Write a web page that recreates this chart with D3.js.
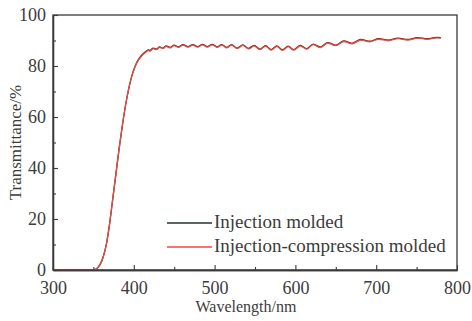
<!DOCTYPE html>
<html>
<head>
<meta charset="utf-8">
<script src="https://cdn.jsdelivr.net/npm/d3@7/dist/d3.min.js"></script>
<style>
  html, body { margin: 0; padding: 0; background: #fff; }
  .chart { width: 472px; height: 321px; }
</style>
</head>
<body>
<div class="chart"></div>
<script>
// Wavelength samples (nm)
var wavelength = [300, 330, 350, 354, 358, 362, 366, 370, 374, 378, 382, 386, 390, 394, 398,
  402, 406, 410, 414, 418, 420, 424, 428, 432, 436, 440, 445, 450, 455, 461, 467, 473, 479,
  485, 491, 497, 503, 509, 515, 521, 528, 535, 542, 549, 556, 563, 570, 577, 584, 591, 598,
  606, 614, 622, 631, 640, 650, 660, 670, 681, 692, 703, 715, 727, 739, 751, 763, 775, 780];

// Injection molded (dark line)
var injection = [0, 0, 0, 0.5, 2, 5, 10, 18, 28, 38, 48, 57, 65, 71.5, 76.6,
  80.2, 82.7, 84.3, 85.5, 86.3, 86.1, 87.0, 86.6, 87.5, 87.0, 87.9, 87.3, 88.2, 87.5, 88.4, 87.6, 88.4, 87.6,
  88.5, 87.6, 88.5, 87.5, 88.4, 87.3, 88.4, 87.0, 88.3, 86.9, 88.1, 86.6, 88.0, 86.4, 87.9, 86.3, 87.8, 86.4,
  88.1, 86.8, 88.6, 87.4, 89.2, 88.2, 89.8, 88.9, 90.4, 89.7, 90.7, 90.1, 90.9, 90.4, 91.1, 90.7, 91.2, 91.1];

// Injection-compression molded (red line)
var injectionCompression = [0, 0, 0, 0.5, 2, 5, 10, 18, 28, 38, 48, 57, 65, 71.5, 76.5,
  80, 82.5, 84, 85.2, 86.0, 85.8, 86.8, 86.4, 87.3, 86.8, 87.7, 87.1, 88.0, 87.3, 88.2, 87.4, 88.2, 87.4,
  88.3, 87.4, 88.3, 87.3, 88.2, 87.1, 88.2, 86.8, 88.1, 86.7, 87.9, 86.4, 87.8, 86.2, 87.7, 86.1, 87.6, 86.2,
  87.9, 86.6, 88.4, 87.2, 89.0, 88.0, 89.6, 88.7, 90.2, 89.5, 90.5, 89.9, 90.7, 90.2, 90.9, 90.5, 91.0, 90.9];

var seriesNames = ['Injection molded', 'Injection-compression molded'];
var seriesColors = ['#24302a', '#f2463e'];

var xTicks = [300, 400, 500, 600, 700, 800];
var xMinorTicks = [350, 450, 550, 650, 750];
var yTicks = [0, 20, 40, 60, 80, 100];
var yMinorTicks = [10, 30, 50, 70, 90];

// Plot frame inside the 472x321 page
var margin = { top: 15, right: 15, bottom: 51, left: 53 };
var chartWidth = 472;
var chartHeight = 321;
var axesColor = '#3a3a3a';
var textColor = '#3c3c3c';
var font = '"Liberation Serif", "Times New Roman", serif';

var svg = d3.select('.chart').append('svg')
  .attr('width', chartWidth)
  .attr('height', chartHeight)
  .style('display', 'block');

var xScale = d3.scaleLinear()
  .domain([300, 800])
  .range([margin.left, chartWidth - margin.right]);

var yScale = d3.scaleLinear()
  .domain([0, 100])
  .range([chartHeight - margin.bottom, margin.top]);

// Frame on top and right (no ticks there)
svg.append('rect')
  .attr('x', xScale(300))
  .attr('y', yScale(100))
  .attr('width', xScale(800) - xScale(300))
  .attr('height', yScale(0) - yScale(100))
  .attr('fill', 'none')
  .attr('stroke', axesColor)
  .attr('stroke-width', 1.3);

// Draw the lines, red one on top
var seriesData = [injection, injectionCompression];
var line = d3.line()
  .curve(d3.curveMonotoneX)
  .x(function(d, i) { return xScale(wavelength[i]); })
  .y(function(d) { return yScale(d); });

seriesData.forEach(function(values, k) {
  svg.append('path')
    .attr('d', line(values))
    .attr('fill', 'none')
    .attr('stroke', seriesColors[k])
    .attr('stroke-width', 1.3)
    .attr('stroke-linejoin', 'round');
});

// Axes with inward ticks
function styleAxis(g) {
  g.select('.domain').attr('stroke', axesColor).attr('stroke-width', 1.3);
  g.selectAll('.tick line').attr('stroke', axesColor).attr('stroke-width', 1.1);
  g.selectAll('.tick text')
    .attr('fill', textColor)
    .style('font-family', font)
    .style('font-size', '18px');
}

svg.append('g')
  .attr('transform', 'translate(0,' + yScale(0) + ')')
  .call(d3.axisBottom(xScale).tickValues(xTicks).tickSizeInner(-5).tickSizeOuter(0).tickPadding(11))
  .call(styleAxis);

svg.append('g')
  .attr('transform', 'translate(0,' + yScale(0) + ')')
  .call(d3.axisBottom(xScale).tickValues(xMinorTicks).tickSizeInner(-3).tickSizeOuter(0).tickFormat(''))
  .call(styleAxis);

svg.append('g')
  .attr('transform', 'translate(' + xScale(300) + ',0)')
  .call(d3.axisLeft(yScale).tickValues(yTicks).tickSizeInner(-5).tickSizeOuter(0).tickPadding(7))
  .call(styleAxis);

svg.append('g')
  .attr('transform', 'translate(' + xScale(300) + ',0)')
  .call(d3.axisLeft(yScale).tickValues(yMinorTicks).tickSizeInner(-3).tickSizeOuter(0).tickFormat(''))
  .call(styleAxis);

// Axis titles
svg.append('text')
  .attr('x', 246)
  .attr('y', 312)
  .attr('text-anchor', 'middle')
  .attr('fill', textColor)
  .style('font-family', font)
  .style('font-size', '16px')
  .text('Wavelength/nm');

svg.append('text')
  .attr('transform', 'translate(21,' + ((yScale(0) + yScale(100)) / 2) + ') rotate(-90)')
  .attr('text-anchor', 'middle')
  .attr('fill', textColor)
  .style('font-family', font)
  .style('font-size', '17px')
  .text('Transmittance/%');

// Legend
var legend = svg.append('g').attr('class', 'legend');
seriesNames.forEach(function(name, k) {
  var ly = 223 + k * 24;
  legend.append('line')
    .attr('x1', 167).attr('x2', 212)
    .attr('y1', ly).attr('y2', ly)
    .attr('stroke', seriesColors[k])
    .attr('stroke-width', 1.3);
  legend.append('text')
    .attr('x', 214)
    .attr('y', ly + 5)
    .attr('fill', textColor)
    .style('font-family', font)
    .style('font-size', '19px')
    .text(name);
});
</script>
</body>
</html>
